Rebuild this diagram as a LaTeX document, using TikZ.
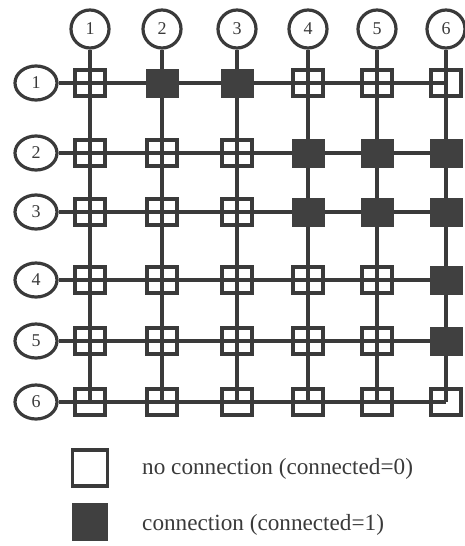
\documentclass[tikz,border=0pt]{standalone}
\usepackage{fontspec}
\setmainfont{Liberation Serif}
\usetikzlibrary{shapes.geometric,backgrounds}
\definecolor{ink}{HTML}{3A3A3A}
\definecolor{fillgray}{HTML}{404040}
\tikzset{
  topcirc/.style={circle,draw=ink,line width=3.2pt,minimum size=38pt,inner sep=0pt,font=\fontsize{18}{18}\selectfont,text=ink},
  leftcirc/.style={ellipse,draw=ink,line width=3.2pt,minimum width=42pt,minimum height=34pt,inner sep=0pt,font=\fontsize{18}{18}\selectfont,text=ink},
  opensq/.style={rectangle,draw=ink,line width=3.2pt,minimum width=30pt,minimum height=26pt,inner sep=0pt},
  fullsq/.style={rectangle,draw=fillgray,fill=fillgray,line width=1pt,minimum width=32pt,minimum height=28pt,inner sep=0pt},
  wire/.style={draw=ink,line width=3.2pt},
  legtext/.style={anchor=west,font=\fontsize{23.2}{23.2}\selectfont,text=ink,inner sep=0pt}
}
\begin{document}
\begin{tikzpicture}[x={(1pt,0)},y={(0,-1pt)}]
\useasboundingbox (0,0) rectangle (465,546);
\def\colxs{90,162,237,308,377,446}
\def\rowys{83,153,212,280,341,402}
% top circles
\foreach \x [count=\i] in \colxs {
  \node[topcirc] (t\i) at (\x,29) {\i};
}
% left ellipses
\foreach \y [count=\j] in \rowys {
  \node[leftcirc] (l\j) at (36,\y) {\j};
}
% crossings
\foreach \y [count=\j] in \rowys {
  \foreach \x [count=\i] in \colxs {
    \coordinate (p\j\i) at (\x,\y);
  }
}
% wires
\foreach \i in {1,...,6} { \draw[wire] (t\i) -- (p6\i); }
\foreach \j in {1,...,6} { \draw[wire] (l\j) -- (p\j6); }
% squares: matrix
\foreach \j/\row in {1/{0,1,1,0,0,0},2/{0,0,0,1,1,1},3/{0,0,0,1,1,1},4/{0,0,0,0,0,1},5/{0,0,0,0,0,1},6/{0,0,0,0,0,0}} {
  \foreach \v [count=\i] in \row {
    \ifnum\v=1
      \node[fullsq] (s\j\i) at (p\j\i) {};
    \else
      \node[opensq] (s\j\i) at (p\j\i) {};
    \fi
  }
}
% legend
\node[opensq,minimum width=35pt,minimum height=36pt] (lg0) at (90,468) {};
\node[fullsq,minimum width=35pt,minimum height=37pt] (lg1) at (90,522) {};
\node[legtext] (lt0) at (142,469) {no connection (connected=0)};
\node[legtext] (lt1) at (142,525) {connection (connected=1)};
\end{tikzpicture}
\end{document}
